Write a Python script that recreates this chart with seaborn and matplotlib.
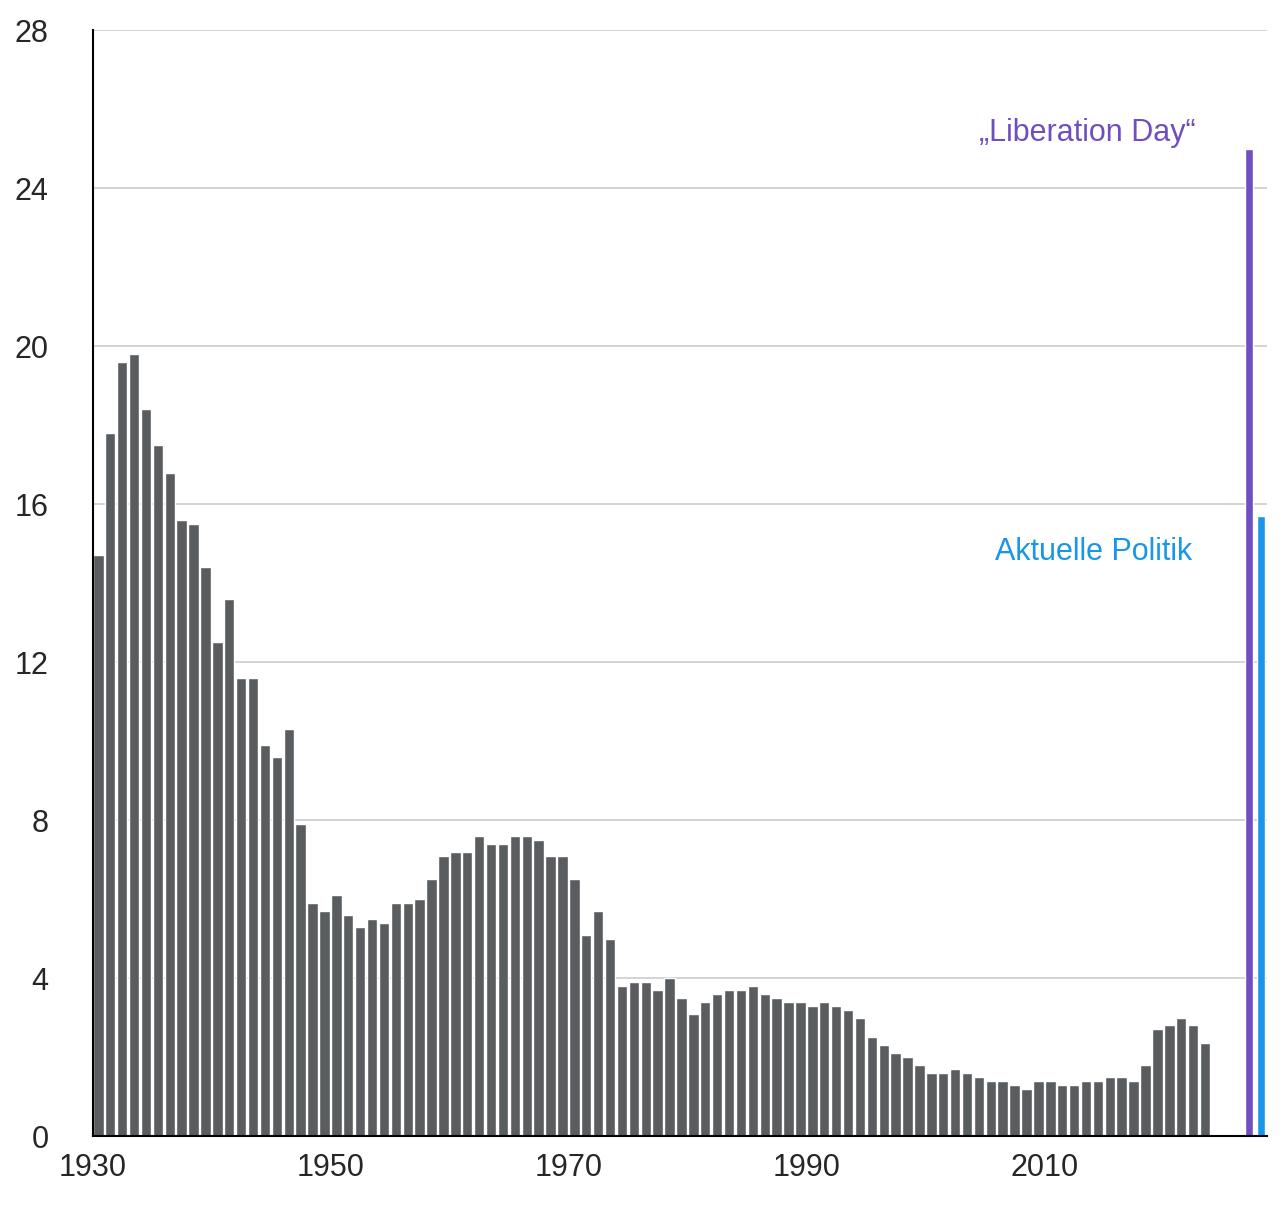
import numpy as np
import pandas as pd
import matplotlib
matplotlib.use("Agg")
import matplotlib.pyplot as plt
import seaborn as sns

years = list(range(1930, 2024))
rates = [14.7, 17.8, 19.6, 19.8, 18.4, 17.5, 16.8, 15.6, 15.5, 14.4,
         12.5, 13.6, 11.6, 11.6, 9.9, 9.6, 10.3, 7.9, 5.9, 5.7,
         6.1, 5.6, 5.3, 5.5, 5.4, 5.9, 5.9, 6.0, 6.5, 7.1,
         7.2, 7.2, 7.6, 7.4, 7.4, 7.6, 7.6, 7.5, 7.1, 7.1,
         6.5, 5.1, 5.7, 5.0, 3.8, 3.9, 3.9, 3.7, 4.0, 3.5,
         3.1, 3.4, 3.6, 3.7, 3.7, 3.8, 3.6, 3.5, 3.4, 3.4,
         3.3, 3.4, 3.3, 3.2, 3.0, 2.5, 2.3, 2.1, 2.0, 1.8,
         1.6, 1.6, 1.7, 1.6, 1.5, 1.4, 1.4, 1.3, 1.2, 1.4,
         1.4, 1.3, 1.3, 1.4, 1.4, 1.5, 1.5, 1.4, 1.8, 2.7,
         2.8, 3.0, 2.8, 2.35]
special_pos = [2026.7, 2027.7]
special_vals = [25.0, 15.7]
special_labels = ["\u201eLiberation Day\u201c", "Aktuelle Politik"]
special_colors = ["#6f4fbf", "#1a96e8"]

sns.set_style("white")
plt.rcParams["font.family"] = ["Liberation Sans", "DejaVu Sans"]

fig = plt.figure(figsize=(12.81, 12.08), dpi=100)
ax = fig.add_axes([0.0726, 0.0596, 0.9164, 0.9154])

ax.yaxis.grid(True, color="#cccccc", linewidth=1.2)
ax.set_axisbelow(True)

df = pd.DataFrame({"year": years, "rate": rates})
sns.barplot(data=df, x="year", y="rate", native_scale=True, width=0.88,
            color="#5a5d5f", saturation=1, ax=ax)
sp = pd.DataFrame({"pos": special_pos, "val": special_vals, "lab": special_labels})
sns.barplot(data=sp, x="pos", y="val", hue="lab", native_scale=True, width=0.7,
            palette=special_colors, saturation=1, legend=False, ax=ax)

ax.text(2022.2, 25.4, special_labels[0], color=special_colors[0], fontsize=22,
        ha="right", va="center")
ax.text(2021.9, 14.8, special_labels[1], color=special_colors[1], fontsize=22,
        ha="right", va="center")

ax.set_xlim(1929.55, 2028.2)
ax.set_ylim(0, 28)
ax.set_yticks(range(0, 29, 4))
ticks = [1930, 1950, 1970, 1990, 2010]
ax.set_xticks([t - 0.45 for t in ticks])
ax.set_xticklabels([str(t) for t in ticks])
ax.tick_params(axis="x", length=6, width=1.5, color="black", labelsize=22, pad=6)
ax.tick_params(axis="y", length=0, labelsize=22, pad=32)
for lab in ax.get_yticklabels():
    lab.set_horizontalalignment("right")
ax.set_xlabel("")
ax.set_ylabel("")
for s in ["top", "right"]:
    ax.spines[s].set_visible(False)
ax.spines["left"].set_color("black")
ax.spines["bottom"].set_color("black")
ax.spines["left"].set_linewidth(1.5)
ax.spines["bottom"].set_linewidth(1.5)

fig.savefig("out.png", dpi=100)
